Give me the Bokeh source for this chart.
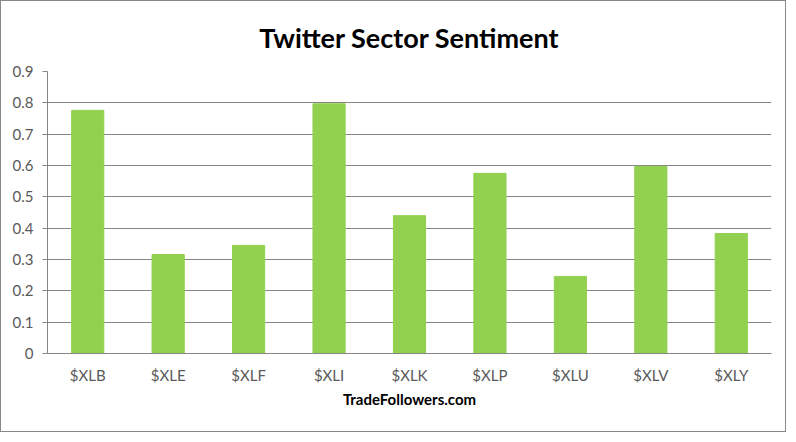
from bokeh.plotting import figure
from bokeh.embed import file_html
from bokeh.resources import INLINE
from bokeh.models import ColumnDataSource, Range1d, FixedTicker, Title, CustomJSTickFormatter

categories = ["$XLB", "$XLE", "$XLF", "$XLI", "$XLK", "$XLP", "$XLU", "$XLV", "$XLY"]
values = [0.776, 0.316, 0.345, 0.797, 0.440, 0.575, 0.246, 0.597, 0.383]
y_ticks = [0, 0.1, 0.2, 0.3, 0.4, 0.5, 0.6, 0.7, 0.8, 0.9]

src = ColumnDataSource(dict(cat=categories, val=values))

p = figure(x_range=categories, y_range=Range1d(0, 0.9), width=786, height=432,
           output_backend="svg", toolbar_location=None,
           min_border_left=46, min_border_right=16, min_border_top=70, min_border_bottom=80)
p.styles = {"border": "1px solid #888888"}

p.vbar(x="cat", top="val", width=0.4, source=src, color="#92D050")

p.title = Title(text="Twitter Sector Sentiment", align="center", text_font="Lato",
                text_font_style="bold", text_color="#000000", offset=0)
p.title.text_font_size = "27px"
p.title.standoff = 35

p.yaxis.ticker = FixedTicker(ticks=y_ticks)
p.yaxis.formatter = CustomJSTickFormatter(code="return tick == 0 ? '0' : tick.toFixed(1);")
p.yaxis.major_label_text_font = "Lato"
p.yaxis.major_label_text_font_size = "15px"
p.yaxis.major_label_text_color = "#595959"
p.yaxis.major_label_standoff = 9
p.yaxis.axis_line_color = "#868686"
p.yaxis.major_tick_line_color = "#868686"
p.yaxis.major_tick_in = 0
p.yaxis.major_tick_out = 5
p.yaxis.minor_tick_line_color = None

p.xaxis.axis_label = "TradeFollowers.com"
p.xaxis.axis_label_text_font = "Lato"
p.xaxis.axis_label_text_font_style = "bold"
p.xaxis.axis_label_text_font_size = "15px"
p.xaxis.axis_label_text_color = "#000000"
p.xaxis.axis_label_standoff = 3
p.xaxis.major_label_text_font = "Lato"
p.xaxis.major_label_text_font_size = "15px"
p.xaxis.major_label_text_color = "#595959"
p.xaxis.axis_line_color = "#868686"
p.xaxis.major_tick_line_color = None
p.xaxis.major_label_standoff = 6

p.xgrid.grid_line_color = None
p.ygrid.grid_line_color = "#868686"
p.outline_line_color = None

open("out.html", "w").write(file_html(p, INLINE))
